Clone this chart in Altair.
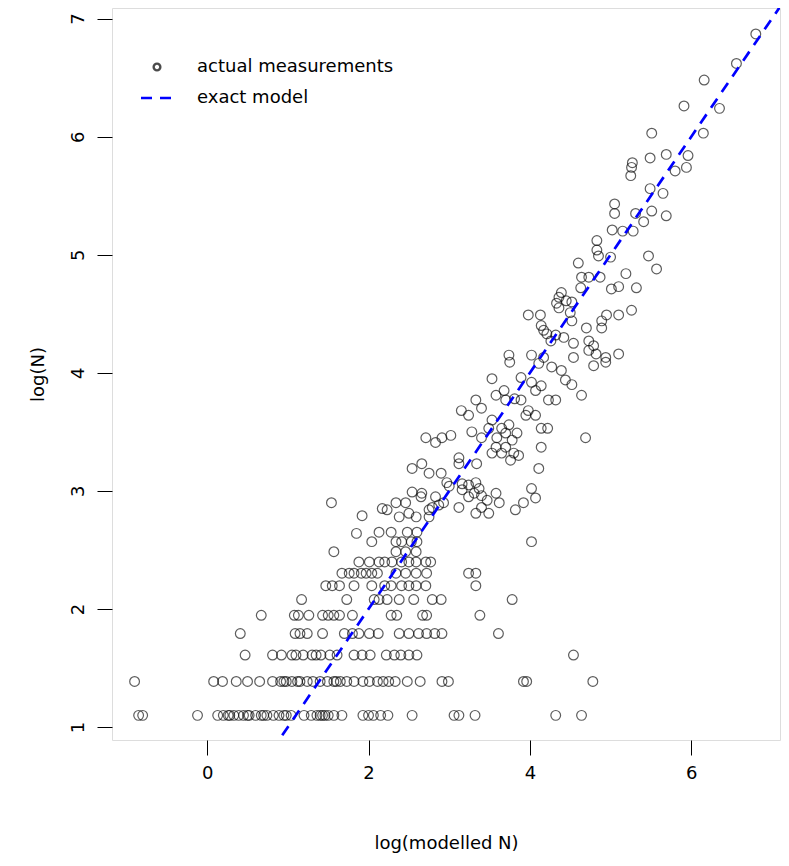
import altair as alt
import pandas as pd

# ---- discrete rows: y = log(N) for small counts, x = log(modelled N) ----
row_levels = [1.0986, 1.3863, 1.6094, 1.7918, 1.9459, 2.0794, 2.1972, 2.3026, 2.3979, 2.4849]
row_n3 = [-0.85, -0.80, -0.12, 0.13, 0.20, 0.26, 0.28, 0.33, 0.39, 0.45, 0.50, 0.52, 0.60, 0.67, 0.70,
          0.74, 0.82, 0.89, 0.95, 0.98, 1.04, 1.20, 1.29, 1.36, 1.40, 1.43, 1.46, 1.50, 1.57, 1.67,
          1.93, 2.00, 2.06, 2.15, 2.24, 2.54, 3.06, 3.12, 3.32, 4.32, 4.64]
row_n4 = [-0.90, 0.08, 0.19, 0.36, 0.50, 0.65, 0.81, 0.91, 0.95, 0.98, 1.05, 1.12, 1.15, 1.24, 1.31,
          1.40, 1.49, 1.57, 1.60, 1.65, 1.73, 1.82, 1.93, 2.01, 2.11, 2.18, 2.25, 2.33, 2.48, 2.64,
          2.91, 2.99, 3.92, 3.96, 4.78]
row_n5 = [0.47, 0.81, 0.92, 1.05, 1.10, 1.19, 1.30, 1.35, 1.41, 1.52, 1.61, 1.82, 1.92, 2.02, 2.22,
          2.32, 2.40, 2.50, 2.60, 4.54]
row_n6 = [0.41, 1.09, 1.15, 1.24, 1.43, 1.70, 1.80, 1.88, 2.01, 2.12, 2.38, 2.50, 2.62, 2.72, 2.82,
          2.91, 3.61]
row_n7 = [0.67, 1.08, 1.13, 1.26, 1.43, 1.50, 1.57, 1.64, 1.80, 2.28, 2.35, 2.67, 2.72, 3.38]
row_n8 = [1.17, 1.73, 2.07, 2.13, 2.23, 2.38, 2.56, 2.79, 2.90, 3.78]
row_n9 = [1.47, 1.55, 1.64, 1.82, 2.04, 2.20, 2.28, 2.41, 2.50, 2.59, 2.71, 3.33]
row_n10 = [1.67, 1.76, 1.82, 1.91, 1.97, 2.04, 2.11, 2.34, 2.46, 2.59, 2.72, 3.24, 3.33]
row_n11 = [1.88, 2.01, 2.13, 2.20, 2.29, 2.41, 2.50, 2.59, 2.71, 2.77]
row_n12 = [1.57, 2.34, 2.46, 2.59]
rows_x = [row_n3, row_n4, row_n5, row_n6, row_n7, row_n8, row_n9, row_n10, row_n11, row_n12]

# ---- scattered points (x, y) ----
top_band = [(6.80, 6.87), (6.56, 6.62), (6.16, 6.48), (5.91, 6.26), (6.35, 6.24), (6.15, 6.03),
            (5.51, 6.03), (5.49, 5.82), (5.69, 5.85), (5.96, 5.84), (5.94, 5.74), (5.80, 5.71),
            (5.27, 5.78), (5.26, 5.74), (5.25, 5.67), (5.49, 5.56), (5.65, 5.52), (5.05, 5.43),
            (5.05, 5.35), (5.31, 5.35), (5.51, 5.37), (5.69, 5.33), (5.02, 5.21), (5.15, 5.20),
            (5.28, 5.20), (5.41, 5.28), (4.83, 5.12), (4.83, 5.04), (4.85, 4.99), (5.00, 4.98),
            (5.47, 4.99), (5.57, 4.88), (4.60, 4.93), (4.64, 4.81), (4.63, 4.72), (4.73, 4.81),
            (4.87, 4.81), (5.19, 4.84), (5.10, 4.73), (5.01, 4.71), (5.32, 4.72)]
upper_band = [(5.26, 4.53), (5.10, 4.49), (4.95, 4.49), (4.89, 4.44), (4.89, 4.38), (4.70, 4.38),
              (4.39, 4.68), (4.36, 4.64), (4.33, 4.59), (4.45, 4.61), (4.52, 4.60), (4.36, 4.55),
              (4.50, 4.51), (4.52, 4.44), (3.98, 4.49), (4.13, 4.49), (4.14, 4.40), (4.17, 4.36),
              (4.21, 4.33), (4.32, 4.32), (4.26, 4.27), (4.42, 4.30), (4.54, 4.25), (4.02, 4.15),
              (4.17, 4.13), (3.74, 4.15), (3.75, 4.09), (4.73, 4.27), (4.79, 4.23), (4.73, 4.19),
              (4.82, 4.16), (4.94, 4.13), (5.10, 4.16), (4.79, 4.06), (4.94, 4.09), (4.54, 4.13),
              (4.11, 4.08), (4.27, 4.05), (4.39, 4.02), (4.44, 3.94), (4.52, 3.90), (4.64, 3.81)]
mid_band = [(3.53, 3.95), (3.89, 3.96), (4.02, 3.92), (4.14, 3.89), (4.07, 3.85), (3.58, 3.81),
            (3.68, 3.85), (3.70, 3.77), (3.81, 3.78), (3.89, 3.77), (4.23, 3.77), (4.32, 3.77),
            (3.33, 3.77), (3.40, 3.70), (3.15, 3.68), (3.24, 3.64), (3.53, 3.60), (3.49, 3.53),
            (3.65, 3.53), (3.74, 3.56), (3.98, 3.68), (3.95, 3.64), (4.07, 3.64), (4.14, 3.53),
            (4.22, 3.53), (3.84, 3.49), (3.70, 3.49), (3.59, 3.45), (3.78, 3.43), (3.28, 3.50),
            (3.40, 3.45), (2.71, 3.45), (2.83, 3.41), (2.91, 3.45), (3.02, 3.47), (4.14, 3.37),
            (4.69, 3.45), (3.58, 3.37), (3.70, 3.37), (3.53, 3.32), (3.65, 3.32), (3.80, 3.32),
            (3.76, 3.26), (3.86, 3.30), (3.12, 3.28), (3.12, 3.23), (3.34, 3.23), (4.11, 3.19),
            (2.54, 3.19), (2.66, 3.23)]
low_band = [(2.75, 3.15), (2.90, 3.15), (2.97, 3.07), (3.00, 3.04), (3.33, 3.07), (3.37, 3.02),
            (3.16, 3.06), (3.16, 3.01), (3.24, 3.05), (3.31, 2.98), (3.40, 2.96), (3.47, 2.92),
            (3.24, 2.95), (4.02, 3.02), (4.07, 2.94), (3.82, 2.84), (3.92, 2.90), (3.58, 2.98),
            (3.62, 2.90), (2.66, 2.98), (2.54, 2.99), (2.34, 2.90), (2.23, 2.84), (2.17, 2.85),
            (1.92, 2.79), (1.54, 2.90), (2.46, 2.90), (2.83, 2.95), (2.79, 2.86), (2.93, 2.90),
            (3.12, 2.86), (3.40, 2.86), (3.49, 2.81), (2.50, 2.81), (2.75, 2.78), (3.33, 2.81),
            (2.38, 2.78), (2.59, 2.78), (1.85, 2.64), (2.13, 2.65), (2.28, 2.65), (2.48, 2.65),
            (2.60, 2.65), (2.04, 2.57), (2.34, 2.57), (2.41, 2.57), (2.53, 2.57), (2.60, 2.57),
            (2.65, 2.95), (2.75, 2.84), (2.87, 2.88), (4.02, 2.57)]

model_x = [0.0, 8.0]          # exact model: log(N) = log(modelled N)
x_ticks = [0, 2, 4, 6]
y_ticks = [1, 2, 3, 4, 5, 6, 7]
x_domain = [-1.18, 7.10]
y_domain = [0.89, 7.09]
legend_labels = ["actual measurements", "exact model"]

# ---- build tables ----
recs = []
for yv, xs in zip(row_levels, rows_x):
    for xv in xs:
        recs.append({"x": xv, "y": yv})
for band in (top_band, upper_band, mid_band, low_band):
    for xv, yv in band:
        recs.append({"x": xv, "y": yv})
pts = pd.DataFrame(recs)
line_df = pd.DataFrame({"x": model_x, "y": model_x})

FONT = "DejaVu Sans"
FS = 18
xs = alt.Scale(domain=x_domain, nice=False, zero=False)
ys = alt.Scale(domain=y_domain, nice=False, zero=False)

points = alt.Chart(pts).mark_point(
    shape="circle", filled=False, size=95, stroke="black", strokeWidth=1.2, strokeOpacity=0.9
).encode(
    x=alt.X("x:Q", scale=xs, axis=alt.Axis(
        values=x_ticks, format="d", title="log(modelled N)", grid=False, domain=False,
        tickSize=15, tickColor="black", labelPadding=9, labelFont=FONT, labelFontSize=FS,
        labelColor="black", titleFont=FONT, titleFontSize=FS, titleFontWeight="normal",
        titleColor="black", titlePadding=52)),
    y=alt.Y("y:Q", scale=ys, axis=alt.Axis(
        values=y_ticks, format="d", title="log(N)", grid=False, domain=False, tickSize=15,
        tickColor="black", labelAngle=270, labelAlign="center", labelBaseline="bottom",
        labelPadding=10, labelFont=FONT, labelFontSize=FS, labelColor="black",
        titleFont=FONT, titleFontSize=FS, titleFontWeight="normal", titleColor="black",
        titlePadding=22)),
)

model = alt.Chart(line_df).mark_line(
    color="#0000FF", strokeWidth=2.7, strokeDash=[11, 8], clip=True
).encode(x=alt.X("x:Q", scale=xs), y=alt.Y("y:Q", scale=ys))

leg_df1 = pd.DataFrame({"t": [legend_labels[0]]})
leg_df2 = pd.DataFrame({"t": [legend_labels[1]]})
leg_sym = alt.Chart(leg_df1).mark_point(
    shape="circle", filled=False, size=45, stroke="black", strokeWidth=2.4
).encode(x=alt.value(45), y=alt.value(59))
leg_dash = alt.Chart(leg_df2).mark_rule(
    color="#0000FF", strokeWidth=2.7, strokeDash=[11, 8]
).encode(x=alt.value(29), x2=alt.value(63), y=alt.value(90))
leg_t1 = alt.Chart(leg_df1).mark_text(
    align="left", baseline="middle", font=FONT, fontSize=FS, color="black"
).encode(x=alt.value(85), y=alt.value(59), text="t:N")
leg_t2 = alt.Chart(leg_df2).mark_text(
    align="left", baseline="middle", font=FONT, fontSize=FS, color="black"
).encode(x=alt.value(85), y=alt.value(90), text="t:N")

chart = alt.layer(points, model, leg_sym, leg_dash, leg_t1, leg_t2).properties(
    width=668, height=732,
    autosize=alt.AutoSizeParams(type="none"),
    padding={"left": 104, "top": 0, "right": 1, "bottom": 116},
).configure_view(stroke="#555555", strokeWidth=2).configure(background="white")

chart.save("out.html", embed_options={"renderer": "svg", "actions": False})
